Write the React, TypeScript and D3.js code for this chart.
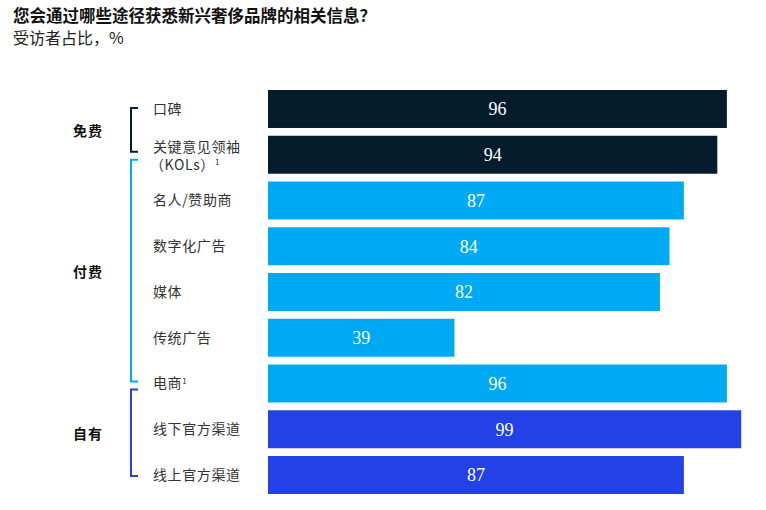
import React from 'react'
import * as d3 from 'd3'

// chart data
const channels = ['口碑', '关键意见领袖', '名人/赞助商', '数字化广告', '媒体', '传统广告', '电商', '线下官方渠道', '线上官方渠道']
const values = [96, 94, 87, 84, 82, 39, 96, 99, 87]
const channelGroup = ['免费', '免费', '付费', '付费', '付费', '付费', '付费', '自有', '自有']
const groups = ['免费', '付费', '自有']
const groupColors = ['#051c2c', '#00a9f4', '#2241e6']
const footnoted = ['关键意见领袖', '电商']

const title = '您会通过哪些途径获悉新兴奢侈品牌的相关信息？'
const subtitle = '受访者占比，%'

const cjk = '"Noto Sans CJK SC", "Noto Sans", sans-serif'

export default function App() {
  const width = 766
  const height = 510

  const x = d3.scaleLinear().domain([0, 100]).range([268, 746])
  const y = d3.scaleBand().domain(channels).range([90, 494]).paddingInner(0.17)
  const color = d3.scaleOrdinal<string, string>().domain(groups).range(groupColors)

  const bw = y.bandwidth()
  const mid = (c: string) => (y(c) as number) + bw / 2

  // bracket extent per group: from first label to last label of the group
  const brackets = groups.map(g => {
    const members = channels.filter((c, i) => channelGroup[i] === g)
    return { g, top: mid(members[0]), bottom: mid(members[members.length - 1]) }
  })
  // tweaks: free bracket starts at its first label, paid starts just under it
  brackets[0].top -= 1
  brackets[0].bottom -= 3
  brackets[1].top = brackets[0].bottom + 8
  brackets[1].bottom -= 2
  brackets[2].top = brackets[1].bottom + 8
  brackets[2].bottom += 1

  return (
    <div style={{ position: 'absolute', left: 0, top: 0 }}>
      <svg width={width} height={height} style={{ display: 'block', background: '#fff' }}>
        <text x={13} y={22} fontFamily={cjk} fontSize={16.5} fontWeight={700} fill="#111">{title}</text>
        <text x={13} y={44} fontFamily={cjk} fontSize={16} fill="#222">{subtitle}</text>

        {brackets.map(b => (
          <g key={b.g}>
            <path
              d={`M138,${b.top}H131V${b.bottom}H138`}
              fill="none"
              stroke={color(b.g)}
              strokeWidth={2}
            />
            <text
              x={73}
              y={(b.top + b.bottom) / 2 + 1}
              dy="0.35em"
              fontFamily={cjk}
              fontSize={14}
              fontWeight={700}
              letterSpacing={1}
              fill="#111"
            >{b.g}</text>
          </g>
        ))}

        {channels.map((c, i) => {
          const cy = mid(c)
          const isKol = c === '关键意见领袖'
          return (
            <g key={c}>
              <rect
                x={x(0)}
                y={y(c)}
                width={x(values[i]) - x(0)}
                height={bw}
                fill={color(channelGroup[i])}
              />
              <text
                x={(x(0) + x(values[i])) / 2}
                y={cy}
                dy="0.35em"
                textAnchor="middle"
                fontFamily='"Liberation Serif", serif'
                fontSize={18}
                fill="#fff"
              >{values[i]}</text>
              {isKol ? (
                <text fontFamily={cjk} fontSize={14} letterSpacing={0.6} fill="#333">
                  <tspan x={153} y={cy - 8} dy="0.35em">{c}</tspan>
                  <tspan x={150} y={cy + 10} dy="0.35em">（KOLs）</tspan>
                  <tspan fontSize={8} dy="-0.6em">1</tspan>
                </text>
              ) : (
                <text x={153} y={cy} dy="0.35em" fontFamily={cjk} fontSize={14} letterSpacing={0.6} fill="#333">
                  {c}
                  {footnoted.includes(c) ? <tspan fontSize={8} dy="-0.6em">1</tspan> : null}
                </text>
              )}
            </g>
          )
        })}
      </svg>
    </div>
  )
}
